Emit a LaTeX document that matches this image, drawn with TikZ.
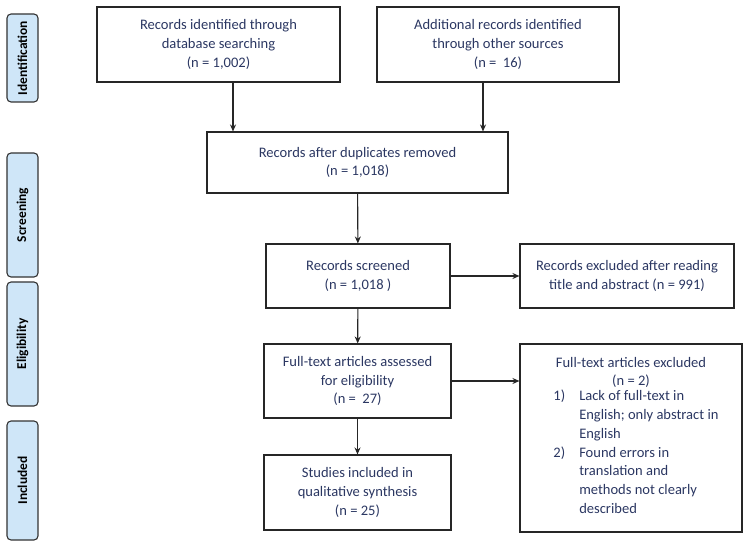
\documentclass[tikz,border=0pt]{standalone}
\usepackage{fontspec}
\setmainfont{Carlito}
\usepackage{tikz}
\usetikzlibrary{arrows.meta}

\definecolor{prismatext}{HTML}{2B3762}
\definecolor{phasefill}{HTML}{CFE6F8}

\tikzset{
  flowbox/.style={draw=black!85, line width=1.1bp, inner sep=0pt, align=center,
    text=prismatext, font=\fontsize{14.6}{18.8}\selectfont},
  phase/.style={draw=black!80, line width=1.1bp, fill=phasefill, rounded corners=4bp,
    rotate=90, inner sep=0pt, minimum height=31bp,
    font=\bfseries\fontsize{13.5}{15}\selectfont},
  flowarrow/.style={-{Stealth[length=7bp,width=6bp]}, line width=1.1bp, black!85}
}

\begin{document}
\begin{tikzpicture}[x=1bp,y=-1bp]
  \useasboundingbox (0,0) rectangle (746,554);
  % phases
  \node[phase, minimum width=88bp]  (ident) at (22.5,58)  {Identification};
  \node[phase, minimum width=124bp] (scr)   at (22.5,215) {Screening};
  \node[phase, minimum width=124bp] (elig)  at (22.5,344) {Eligibility};
  \node[phase, minimum width=119bp] (incd)  at (22.5,480.5) {Included};
  % boxes
  \node[flowbox, minimum width=243bp, minimum height=75bp] (db) at (218.5,44.5)
    {Records identified through\\ database searching\\ (n = 1,002)};
  \node[flowbox, minimum width=242bp, minimum height=75bp] (other) at (498,44.5)
    {Additional records identified\\ through other sources\\ (n =~ 16)};
  \node[flowbox, minimum width=301bp, minimum height=61bp] (dup) at (357.5,162.5)
    {Records after duplicates removed\\ (n = 1,018)};
  \node[flowbox, minimum width=184bp, minimum height=64bp] (screen) at (358,276)
    {Records screened\\ (n = 1,018 )};
  \node[flowbox, minimum width=214bp, minimum height=64bp] (exclA) at (627,276)
    {Records excluded after reading\\ title and abstract (n = 991)};
  \node[flowbox, minimum width=187bp, minimum height=74bp] (full) at (357.5,381)
    {Full-text articles assessed\\ for eligibility\\ (n =~ 27)};
  \node[flowbox, minimum width=187bp, minimum height=75bp] (incl) at (357.5,492.5)
    {Studies included in\\ qualitative synthesis\\ (n = 25)};
  \node[flowbox, minimum width=222bp, minimum height=188bp] (exclB) at (631,438)
    {Full-text articles excluded\\ (n = 2)\\[-1bp]
     \hspace*{10bp}\begin{tabular}{@{}l@{\hspace{14bp}}l@{}}
       1) & Lack of full-text in\\
          & English; only abstract in\\
          & English\\
       2) & Found errors in\\
          & translation and\\
          & methods not clearly\\
          & described
     \end{tabular}};
  % connectors
  \draw[flowarrow] ([xshift=14.5bp]db.south) -- ([xshift=14.5bp]db.south |- dup.north);
  \draw[flowarrow] ([xshift=-15bp]other.south) -- ([xshift=-15bp]other.south |- dup.north);
  \path[flowarrow]
    (dup) edge (screen)
    (screen) edge (exclA)
    (screen) edge (full)
    (full) edge (incl);
  \draw[flowarrow] (full.east) -- (full.east -| exclB.west);
\end{tikzpicture}
\end{document}
